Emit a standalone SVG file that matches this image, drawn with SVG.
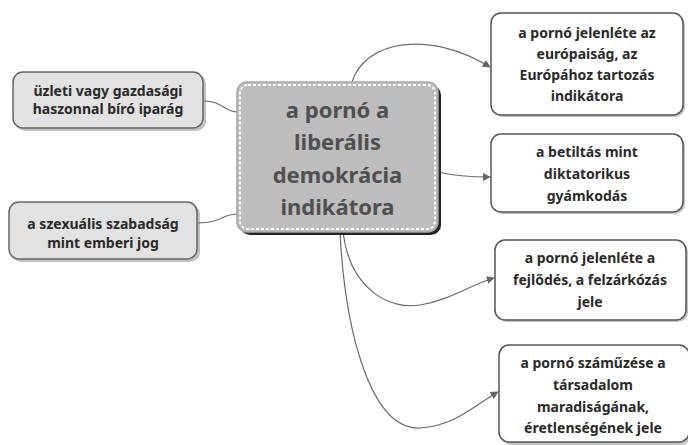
<svg xmlns="http://www.w3.org/2000/svg" width="688" height="445" viewBox="0 0 688 445">
<defs>
<style>
.t{font-family:"Noto Sans","Open Sans","DejaVu Sans",sans-serif;font-weight:bold;text-anchor:middle}
.small{font-size:14px;fill:#2a2a2a}
.big{font-size:22px;fill:#505050}
.box{fill:#fff;stroke:#555;stroke-width:1.5}
.lbox{fill:#e2e2e2;stroke:#666;stroke-width:1.5}
.sh{fill:#777;opacity:0.45}
.c{fill:none;stroke:#6a6a6a;stroke-width:1.2}
</style>
<marker id="arr" viewBox="0 0 10 10" refX="9" refY="5" markerWidth="8" markerHeight="8" markerUnits="userSpaceOnUse" orient="auto">
<path d="M0,0 L10,5 L0,10 z" fill="#666"/>
</marker>
</defs>
<rect width="688" height="445" fill="#fff"/>
<g id="connectors">
<path class="c" d="M352,82 C365,40 430,30 490,67" marker-end="url(#arr)"/>
<path class="c" d="M438,172 C455,176 470,177 490,177" marker-end="url(#arr)"/>
<path class="c" d="M343,232 C350,290 390,310 420,305 C450,300 470,285 494,278" marker-end="url(#arr)"/>
<path class="c" d="M340,232 C345,330 370,430 420,428 C455,426 475,405 498,392" marker-end="url(#arr)"/>
<path class="c" d="M204,101 C222,101 225,112 237,112"/>
<path class="c" d="M198,223 C222,223 222,214 237,214"/>
</g>
<g id="center">
<rect x="240" y="85" width="201" height="150" rx="10" fill="#222"/>
<rect x="237" y="82" width="201" height="150" rx="10" fill="#bdbdbd" stroke="#a8a8a8" stroke-width="1.5"/>
<rect x="240" y="85" width="195" height="144" rx="8" fill="none" stroke="#fff" stroke-width="2" stroke-dasharray="3 2"/>
<text class="t big" x="337.5" y="118">a pornó a</text>
<text class="t big" x="337.5" y="150">liberális</text>
<text class="t big" x="337.5" y="183">demokrácia</text>
<text class="t big" x="337.5" y="215">indikátora</text>
</g>
<g id="left1">
<rect class="sh" x="15" y="74" width="191" height="57" rx="10"/>
<rect class="lbox" x="13" y="72" width="190" height="56" rx="10"/>
<text class="t small" x="108" y="96">üzleti vagy gazdasági</text>
<text class="t small" x="108" y="114">haszonnal bíró iparág</text>
</g>
<g id="left2">
<rect class="sh" x="11" y="204" width="189" height="58" rx="10"/>
<rect class="lbox" x="9" y="202" width="188" height="57" rx="10"/>
<text class="t small" x="103" y="229">a szexuális szabadság</text>
<text class="t small" x="103" y="248">mint emberi jog</text>
</g>
<g id="right1">
<rect class="sh" x="493" y="15" width="192" height="102" rx="10"/>
<rect class="box" x="491" y="13" width="192" height="102" rx="10"/>
<text class="t small" x="587" y="38">a pornó jelenléte az</text>
<text class="t small" x="587" y="59">európaiság, az</text>
<text class="t small" x="587" y="80">Európához tartozás</text>
<text class="t small" x="587" y="101">indikátora</text>
</g>
<g id="right2">
<rect class="sh" x="493" y="136" width="192" height="78" rx="10"/>
<rect class="box" x="491" y="134" width="192" height="78" rx="10"/>
<text class="t small" x="587" y="157">a betiltás mint</text>
<text class="t small" x="587" y="179">diktatorikus</text>
<text class="t small" x="587" y="201">gyámkodás</text>
</g>
<g id="right3">
<rect class="sh" x="497" y="242" width="191" height="80" rx="10"/>
<rect class="box" x="495" y="240" width="191" height="80" rx="10"/>
<text class="t small" x="590" y="263">a pornó jelenléte a</text>
<text class="t small" x="590" y="285">fejlődés, a felzárkózás</text>
<text class="t small" x="590" y="307">jele</text>
</g>
<g id="right4">
<rect class="sh" x="501" y="347" width="190" height="98" rx="10"/>
<rect class="box" x="499" y="345" width="190" height="97" rx="10"/>
<text class="t small" x="593" y="368">a pornó száműzése a</text>
<text class="t small" x="593" y="390">társadalom</text>
<text class="t small" x="593" y="412">maradiságának,</text>
<text class="t small" x="593" y="433">éretlenségének jele</text>
</g>
</svg>
